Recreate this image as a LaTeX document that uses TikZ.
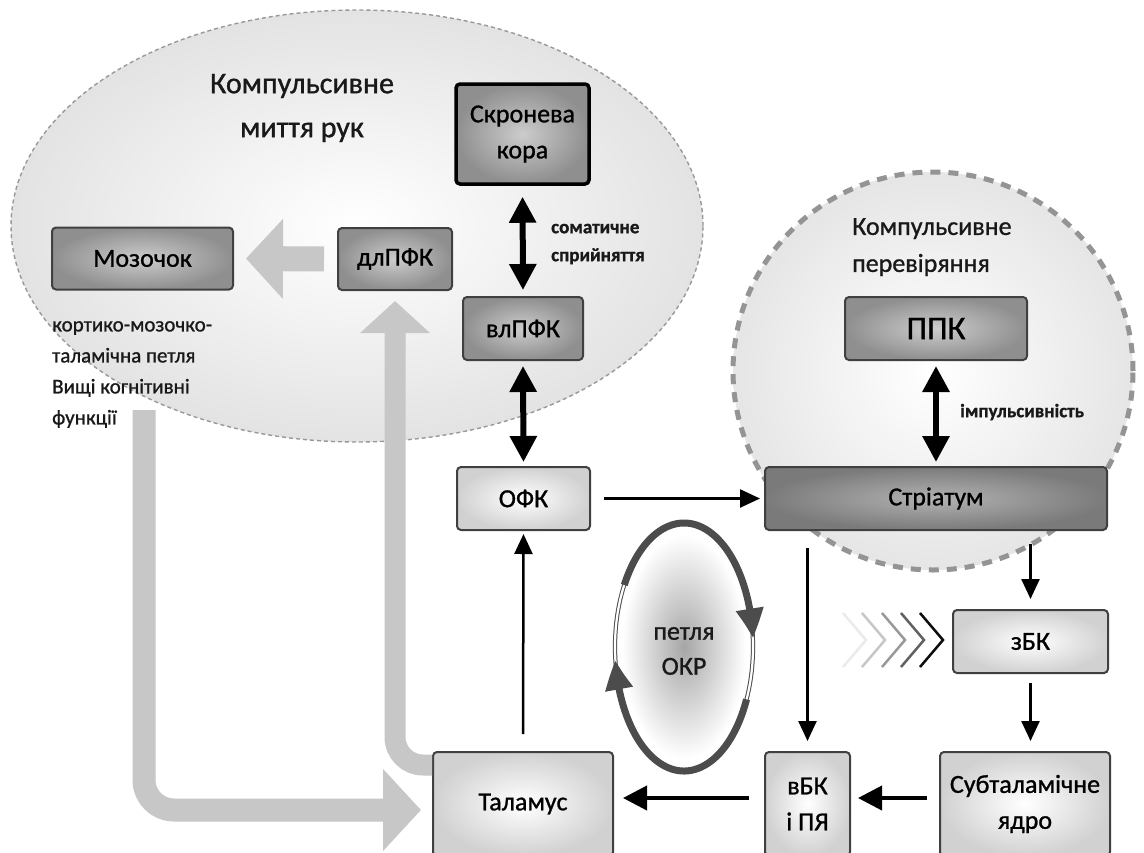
\documentclass[tikz,border=0pt]{standalone}
\usepackage{fontspec}
\setmainfont{Carlito}[FakeBold=1.0]
\usetikzlibrary{arrows.meta,calc,bending}
\newcommand\fsz[2]{\fontsize{#1pt}{#2pt}\selectfont}
\tikzset{
  dbox/.style={draw=black!75, line width=2pt, rounded corners=4pt, inner color=black!20, outer color=black!44, font=\fsz{26}{36}, align=center, inner sep=0pt, text=black},
  lbox/.style={dbox, inner color=white, outer color=black!18},
  blk/.style={draw=black, line width=2.5pt, -{Triangle[width=18pt,length=20pt]}},
  blkb/.style={draw=black, line width=4pt, -{Triangle[width=24pt,length=24pt]}},
  dbl/.style={draw=black, line width=6pt, {Triangle[width=26pt,length=26pt]}-{Triangle[width=26pt,length=26pt]}},
  garr/.style={draw=black!22, line cap=butt},
  lbl/.style={font=\bfseries\fsz{19}{28}, text=black!90, align=left, inner sep=0pt},
  ringarr/.style={draw=black!70, line width=7pt, -{Triangle[width=26pt,length=30pt,bend]}},
  thinring/.style={draw=black!70, line width=1pt, double=white, double distance=2.2pt}
}
\begin{document}
\begin{tikzpicture}[x=1pt,y=-1pt]
\useasboundingbox (0,0) rectangle (1144,852);
\clip (0,0) rectangle (1144,852);
\fill[white] (0,0) rectangle (1144,852);

% background regions
\path[draw=black!40, line width=1.4pt, dash pattern=on 4pt off 3pt, inner color=white, outer color=black!11]
  (357,226) ellipse [x radius=346pt, y radius=216pt];
\path[draw=black!42, line width=5pt, dash pattern=on 10pt off 8pt, inner color=white, outer color=black!10]
  (933,371) ellipse [x radius=200pt, y radius=199pt];

% texts
\node[font=\fsz{30}{44}, align=center, text=black!90] (t1) at (302,108) {Компульсивне\\миття рук};
\node[font=\fsz{26}{37}, align=left, text=black!90, anchor=north west, inner sep=0pt] (t2) at (852,218) {Компульсивне\\перевіряння};
\node[font=\fsz{21}{31}, align=left, text=black!90, anchor=north west, inner sep=0pt] (t3) at (52,321) {кортико-мозочко-\\таламічна петля\\Вищі когнітивні\\функції};
\node[lbl, anchor=west] (t4) at (551,244) {соматичне\\сприйняття};
\node[lbl, anchor=west] (t5) at (960,412) {імпульсивність};

% boxes
\node[dbox, draw=black, line width=3.5pt, minimum width=133pt, minimum height=100pt] (skr) at (522.5,134) {Скронева\\кора};
\node[dbox, minimum width=181pt, minimum height=62pt] (moz) at (142.5,258.5) {Мозочок};
\node[dbox, minimum width=114pt, minimum height=62pt] (dl) at (395,259) {длПФК};
\node[dbox, minimum width=120pt, minimum height=63pt] (vl) at (523,328.5) {влПФК};
\node[lbox, minimum width=133pt, minimum height=63pt] (ofk) at (523.5,498.5) {ОФК};
\node[dbox, font=\fsz{33}{36}, minimum width=182pt, minimum height=63pt] (ppk) at (936,328.5) {ППК};
\node[dbox, inner color=black!30, outer color=black!52, minimum width=342pt, minimum height=63pt] (str) at (936,498.5) {Стріатум};
\node[lbox, minimum width=155pt, minimum height=63pt] (zbk) at (1030.5,641.5) {зБК};
\node[lbox, minimum width=170pt, minimum height=104pt] (sub) at (1025,804) {Субталамічне\\ядро};
\node[lbox, minimum width=85pt, minimum height=104pt] (vbk) at (807.5,804) {вБК\\і ПЯ};
\node[lbox, minimum width=180pt, minimum height=104pt] (tal) at (523,804) {Таламус};

% grey wide arrows
\coordinate (gs) at (144,410);
\draw[garr, line width=25pt, -{Triangle[width=78pt,length=37pt]}, shorten <=13pt, shorten >=12pt] (dl.west) -- (moz.east);
\draw[garr, line width=21pt, rounded corners=28pt, -{Triangle[width=68pt,length=32pt]}, shorten >=10pt]
  ($(tal.west)+(0,-39)$) -| (dl.south);
\draw[garr, line width=23pt, rounded corners=30pt, -{Triangle[width=80pt,length=38pt]}, shorten >=11pt]
  (gs) |- ($(tal.west)+(0,6)$);

% black arrows
\draw[dbl, shorten <=11pt, shorten >=6pt] (skr.south) -- (vl.north);
\draw[dbl, shorten <=5pt, shorten >=4pt] (vl.south) -- (ofk.north);
\draw[dbl, shorten <=5pt, shorten >=4pt] (ppk.south) -- (str.north);
\draw[blk, shorten <=13pt, shorten >=4pt] (ofk.east) -- (str.west);
\draw[blk, shorten <=17pt, shorten >=10pt] (vbk.north |- str.south) -- (vbk.north);
\draw[blk, shorten <=13pt, shorten >=10pt] (zbk.north |- str.south) -- (zbk.north);
\draw[blk, shorten <=9pt, shorten >=10pt] (zbk.south) -- (zbk.south |- sub.north);
\draw[blkb, shorten <=12pt, shorten >=7pt] ($(sub.west)+(0,-6)$) -- ($(vbk.east)+(0,-6)$);
\draw[blkb, shorten <=15pt, shorten >=9pt] ($(vbk.west)+(0,-6)$) -- ($(tal.east)+(0,-6)$);
\draw[blk, shorten <=17pt, shorten >=3pt] (tal.north) -- (ofk.south);

% chevrons
\foreach \x/\c in {866/8, 885/22, 905/40, 924/62, 943/95}
  \draw[black!\c, line width=2.5pt] (\x-23,613) -- (\x,640) -- (\x-23,667);

% OCD loop
\coordinate (lc) at (684,647);
\shade[inner color=black!35, outer color=white] (lc) ellipse [x radius=62pt, y radius=112pt];
\draw[thinring] (lc) ellipse [x radius=69pt, y radius=124pt];
\draw[ringarr] (lc) ++(150:69pt and 124pt) arc[start angle=150, end angle=4, x radius=69pt, y radius=124pt];
\draw[ringarr] (lc) ++(-25:69pt and 124pt) arc[start angle=-25, end angle=-174, x radius=69pt, y radius=124pt];
\node[font=\fsz{26}{35}, align=center, text=black!90] (t7) at (684,651) {петля\\ОКР};
\end{tikzpicture}
\end{document}
